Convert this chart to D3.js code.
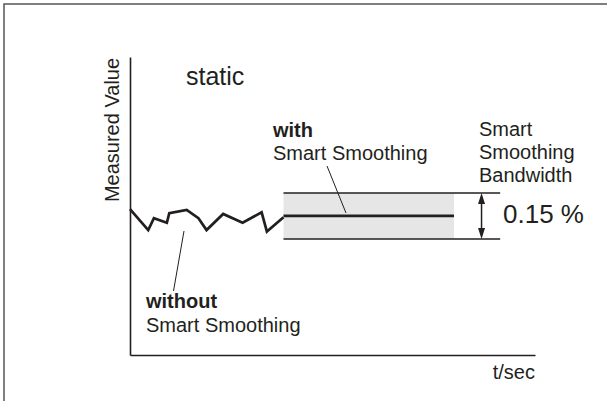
<!DOCTYPE html>
<html><head><meta charset="utf-8">
<script src="https://cdn.jsdelivr.net/npm/d3@7"></script>
<style>html,body{margin:0;padding:0;background:#fff}svg{display:block}text{font-family:"Liberation Sans",Arial,sans-serif;fill:#231f20}</style>
</head><body>
<script>
// time (arbitrary units) and measured deviation (%) of the unsmoothed signal
const rawTime = [0, 4.5, 5.9, 9.1, 9.7, 14.0, 16.9, 18.9, 23.0, 27.8, 32.5, 33.8, 37.9];
const rawValue = [0.022, -0.046, -0.0075, -0.022, 0.009, 0.020, -0.0075, -0.046, 0.0065, -0.022, 0.012, -0.051, -0.004];
// smoothed signal
const smoothTime = [37.9, 80];
const smoothValue = [0, 0];
// smoothing band
const bandWidth = 0.15;
const bandStart = 37.9, bandFillEnd = 80, bandLineEnd = 91.4, arrowTime = 86.8;
const labels = {
  title: "static",
  yAxis: "Measured Value",
  xAxis: "t/sec",
  with1: "with", with2: "Smart Smoothing",
  without1: "without", without2: "Smart Smoothing",
  band: ["Smart", "Smoothing", "Bandwidth"],
  bandValue: "0.15 %"
};

const W = 607, H = 401;
const svg = d3.select("body").append("svg").attr("width", W).attr("height", H);
const x = d3.scaleLinear().domain([0, 100]).range([130, 535]);
const y = d3.scaleLinear().domain([-0.453, 0.518]).range([355, 57]);

// frame
svg.append("path").attr("d", `M4,${H} L4,4 L${W},4`).attr("fill", "none").attr("stroke", "#555").attr("stroke-width", 1.5);

// band fill
const half = bandWidth / 2;
svg.append("rect").attr("x", x(bandStart)).attr("y", y(half))
  .attr("width", x(bandFillEnd) - x(bandStart)).attr("height", y(-half) - y(half))
  .attr("fill", "#e6e6e6");
[half, -half].forEach(v => {
  svg.append("line").attr("x1", x(bandStart)).attr("x2", x(bandLineEnd))
    .attr("y1", y(v)).attr("y2", y(v)).attr("stroke", "#231f20").attr("stroke-width", 1.5);
});

// axes
const ax = svg.append("g").attr("transform", `translate(0,${y.range()[0]})`)
  .call(d3.axisBottom(x).ticks(0).tickSizeOuter(0));
const ay = svg.append("g").attr("transform", `translate(${x.range()[0]},0)`)
  .call(d3.axisLeft(y).ticks(0).tickSizeOuter(0));
[ax, ay].forEach(g => g.select(".domain").attr("stroke", "#231f20").attr("stroke-width", 1.6));

// lines
const line = d3.line().x(d => x(d[0])).y(d => y(d[1]));
svg.append("path").datum(d3.zip(rawTime, rawValue)).attr("d", line)
  .attr("fill", "none").attr("stroke", "#231f20").attr("stroke-width", 2.7).attr("stroke-linejoin", "miter");
svg.append("path").datum(d3.zip(smoothTime, smoothValue)).attr("d", line)
  .attr("fill", "none").attr("stroke", "#231f20").attr("stroke-width", 2.7);

// double arrow
const ax0 = x(arrowTime), yt = y(half), yb = y(-half);
svg.append("line").attr("x1", ax0).attr("x2", ax0).attr("y1", yt + 8).attr("y2", yb - 8)
  .attr("stroke", "#231f20").attr("stroke-width", 1.5);
svg.append("path").attr("d", `M${ax0},${yt} L${ax0-3.5},${yt+11} L${ax0+3.5},${yt+11} Z`).attr("fill", "#231f20");
svg.append("path").attr("d", `M${ax0},${yb} L${ax0-3.5},${yb-11} L${ax0+3.5},${yb-11} Z`).attr("fill", "#231f20");

// leader lines
svg.append("line").attr("x1", 327).attr("y1", 166).attr("x2", 346).attr("y2", 213)
  .attr("stroke", "#231f20").attr("stroke-width", 1);
svg.append("line").attr("x1", 184).attr("y1", 231).attr("x2", 173.5).attr("y2", 291)
  .attr("stroke", "#231f20").attr("stroke-width", 1);

// texts
const T = (s, xx, yy, size, opts = {}) => svg.append("text").attr("x", xx).attr("y", yy)
  .attr("font-size", size).attr("font-weight", opts.bold ? "bold" : "normal")
  .attr("text-anchor", opts.anchor || "start").text(s);
T(labels.title, 186, 85, 25);
T(labels.with1, 273, 137, 20, {bold: true});
T(labels.with2, 273, 160, 20);
T(labels.without1, 146, 308, 20, {bold: true});
T(labels.without2, 146, 332, 20);
labels.band.forEach((s, i) => T(s, 479, 136 + i * 23, 20));
T(labels.bandValue, 503, 223, 26);
T(labels.xAxis, 535, 379, 20, {anchor: "end"});
svg.append("text").attr("transform", "translate(119,130) rotate(-90)")
  .attr("text-anchor", "middle").attr("font-size", 20).text(labels.yAxis);
</script>
</body></html>
